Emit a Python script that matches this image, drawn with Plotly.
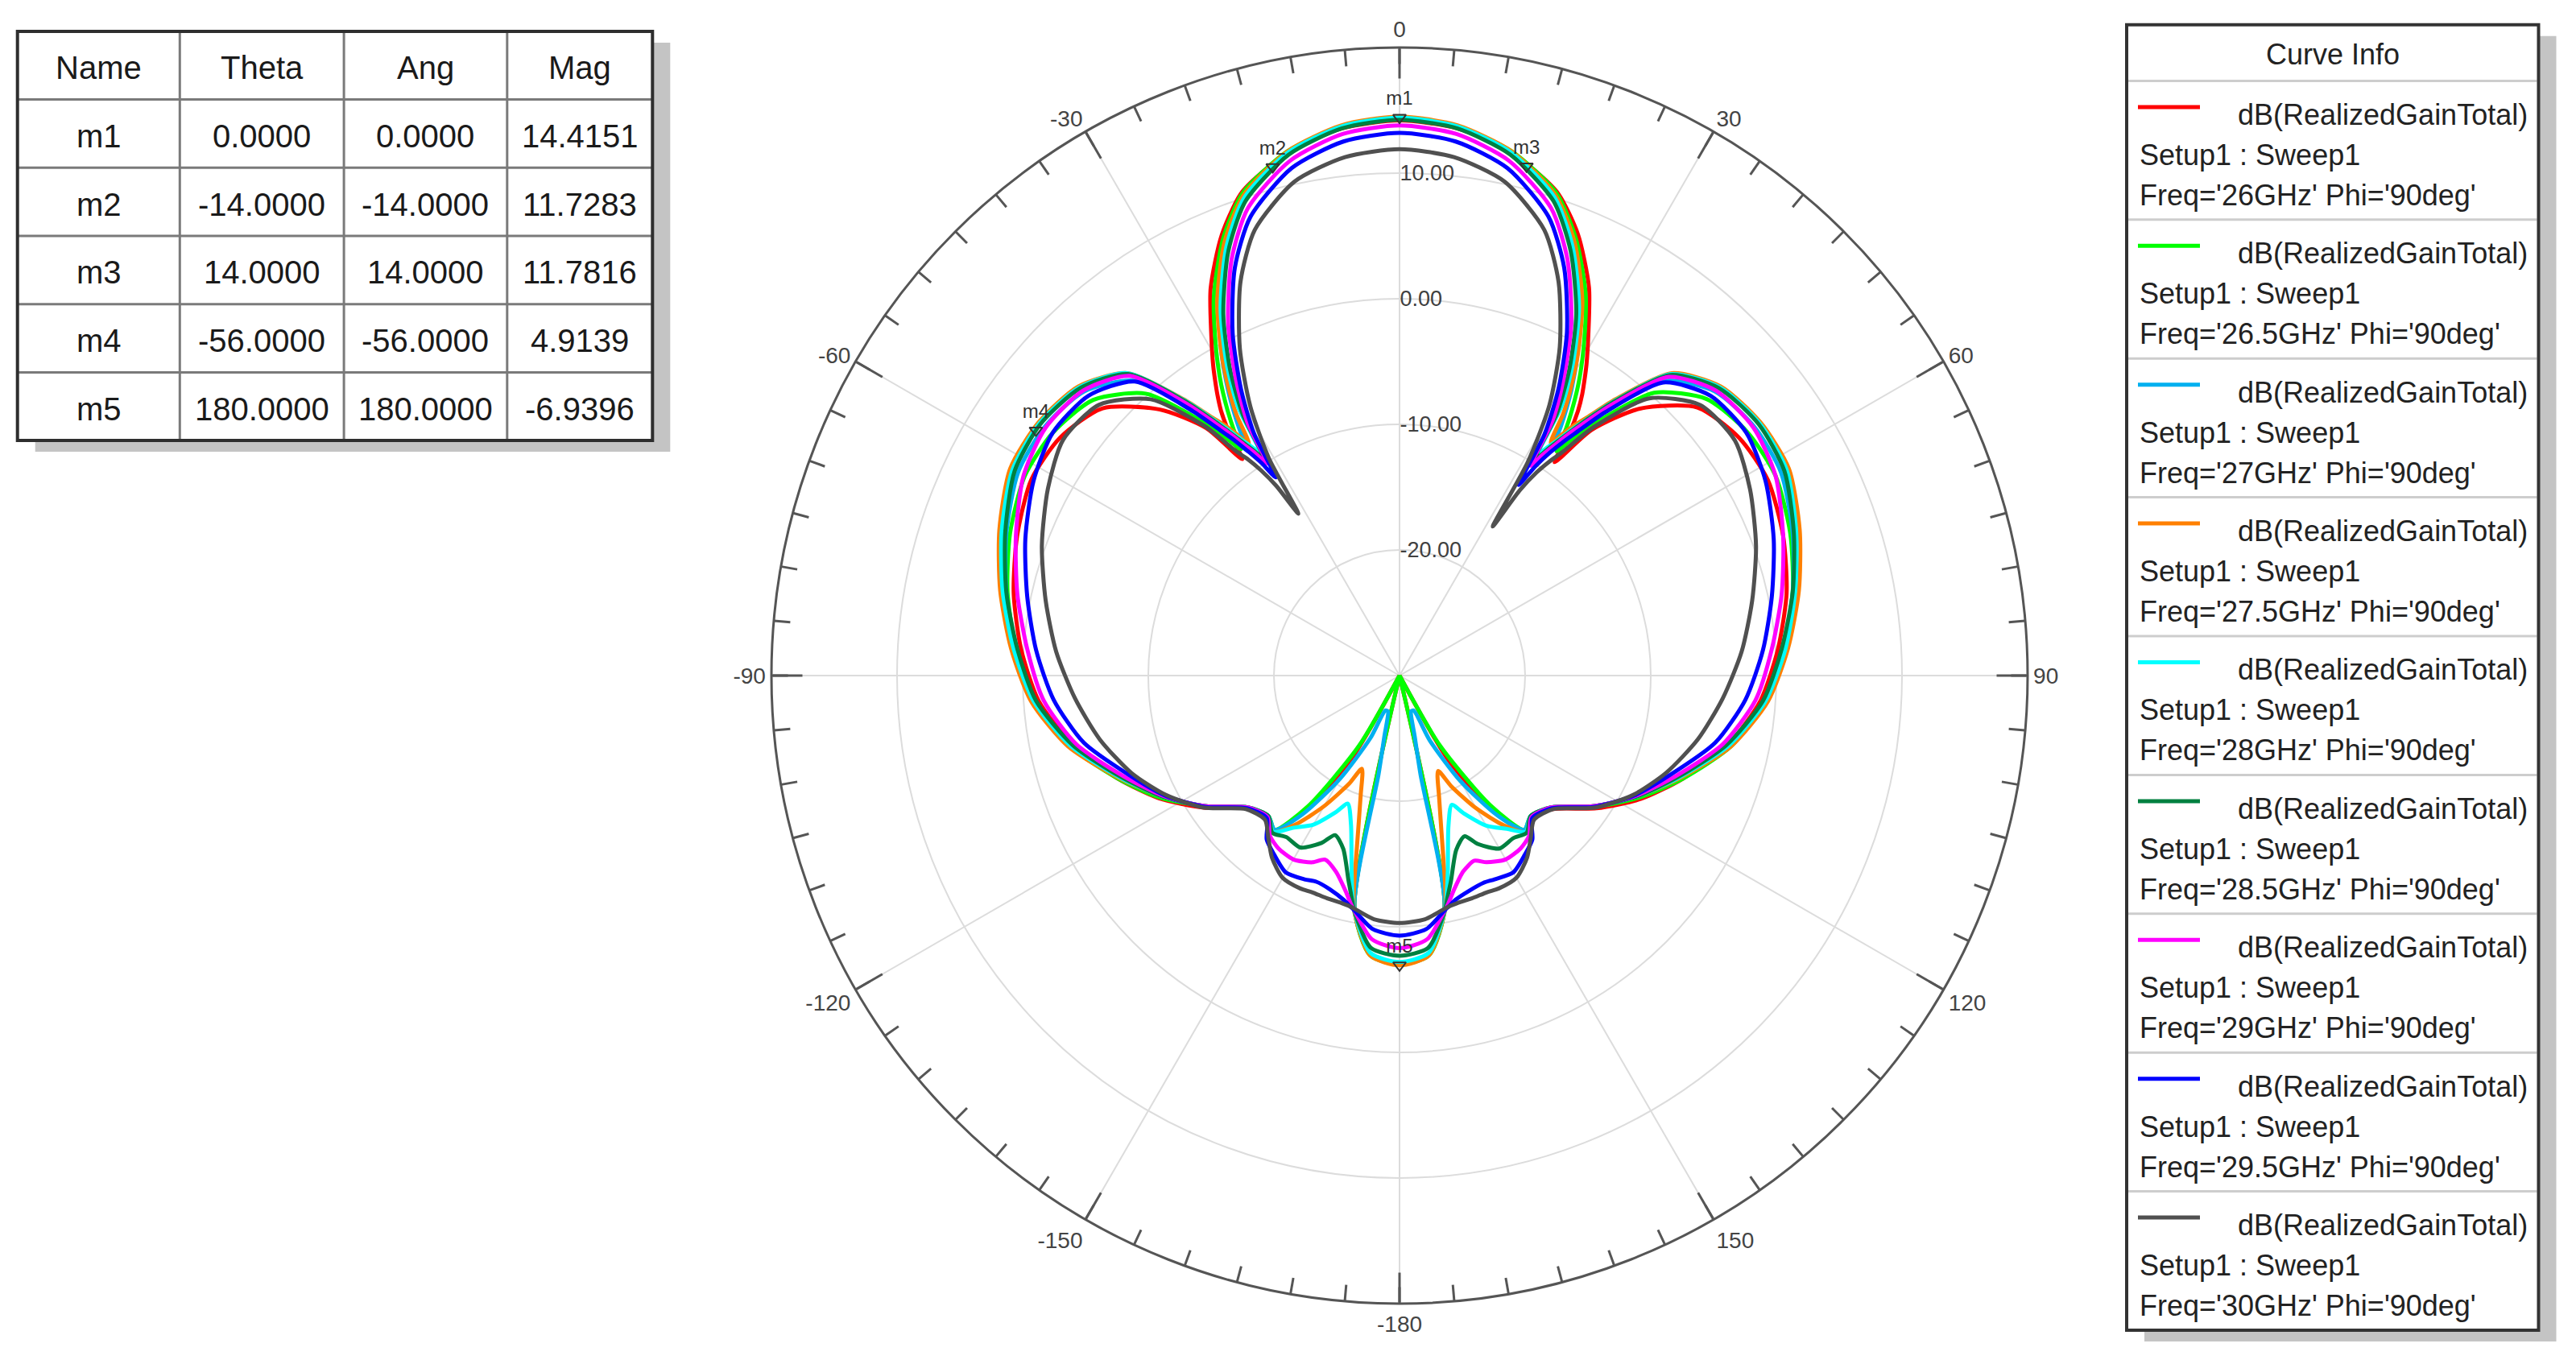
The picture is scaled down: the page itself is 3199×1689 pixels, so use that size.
import plotly.graph_objects as go

W, H = 3199, 1689
OFF = 8  # page body margin of the browser, compensated for in paper coordinates

# ---------------- data ----------------
THETA = [-180, -174, -169, -168, -166, -162, -158, -155, -150, -145, -141, -137, -131, -124, -117,
         -110, -102, -94, -86, -78, -70, -62, -55, -48, -42, -38, -36, -35, -34, -33, -32, -31,
         -29, -26, -22, -18, -12, -6, 0,
         6, 12, 18, 22, 26, 29, 31, 32, 33, 34, 35, 36, 38, 42, 48, 55, 62, 70, 78, 86, 94, 102,
         110, 117, 124, 131, 137, 141, 145, 150, 155, 158, 162, 166, 168, 169, 174, 180]

FREQS = ["26GHz", "26.5GHz", "27GHz", "27.5GHz", "28GHz", "28.5GHz", "29GHz", "29.5GHz", "30GHz"]
COLORS = ["#ff0000", "#00ff00", "#00b0f0", "#ff8000", "#00ffff", "#008040", "#ff00ff", "#0000ff", "#505050"]

GAIN_26 = ([-7.1, -7.7, -11.2, -30, -30, -30, -30, -30, -22.5, -16.8, -14.1, -14.6, -13.9, -11.2, -8.5,
            -6.1, -3.4, -1.2, 0.2, 1.4, 2.4, 3.2, 3.0, 1.8, -1.5, -5.0, -8.7, -6.3, -4.6, -3.4, -2.3, -1.2,
            0.9, 4.3, 7.8, 10.5, 12.6, 13.8, 14.2]
           + [13.8, 12.6, 10.5, 7.9, 4.4, 1.0, -1.1, -2.2, -3.3, -4.6, -6.4, -9.0, -5.2, -1.4, 1.9, 3.0,
              3.2, 2.5, 1.5, 0.2, -1.2, -3.3, -6.0, -8.4, -11.1, -13.8, -14.6, -14.1, -16.6, -22.3,
              -30, -30, -30, -30, -30, -11.2, -7.7, -7.1])
GAIN_26_5 = ([-7.0, -7.6, -11.2, -30, -30, -30, -30, -30, -23.5, -17.3, -14.2, -14.7, -14.0, -11.4, -8.6,
              -6.1, -3.1, -0.9, 0.6, 1.9, 3.0, 3.8, 3.7, 2.8, 0.2, -4.2, -6.8, -8.0, -6.4, -4.9, -3.5, -2.2,
              0.2, 3.7, 7.5, 10.4, 12.7, 13.95, 14.35]
             + [13.95, 12.7, 10.4, 7.5, 3.8, 0.3, -2.1, -3.4, -4.8, -6.3, -8.2, -6.9, -4.3, 0.3, 2.9, 3.8,
                3.9, 3.1, 2.0, 0.6, -0.9, -3.0, -6.0, -8.6, -11.3, -14.0, -14.7, -14.2, -17.4, -23.6,
                -30, -30, -30, -30, -30, -11.2, -7.6, -7.0])
GAIN_27 = ([-7.1, -7.7, -11.2, -22.0, -25.0, -27.0, -27.0, -24.5, -20.5, -16.5, -14.2, -14.7, -14.0, -11.4,
            -8.8, -6.3, -3.3, -0.9, 0.6, 2.0, 3.3, 4.4, 4.5, 3.8, 1.6, -2.8, -5.2, -6.6, -8.5, -6.6, -5.0,
            -3.5, -0.8, 2.9, 7.0, 10.1, 12.6, 13.95, 14.4]
           + [13.95, 12.6, 10.1, 7.0, 2.9, -0.8, -3.4, -4.9, -6.5, -8.4, -6.6, -5.2, -2.8, 1.6, 3.8, 4.5,
              4.4, 3.3, 2.0, 0.6, -0.9, -3.3, -6.3, -8.8, -11.4, -14.0, -14.7, -14.2, -16.4, -20.3,
              -24.3, -27.0, -27.0, -25.0, -22.0, -11.2, -7.7, -7.1])
GAIN_27_5 = ([-6.94, -7.6, -11.0, -12.5, -16.0, -20.0, -22.0, -20.5, -18.0, -15.5, -14.0, -14.7, -14.0, -11.4,
              -8.8, -6.2, -3.0, -0.6, 1.0, 2.5, 3.9, 5.1, 5.1, 4.4, 2.4, -2.1, -4.6, -5.6, -6.8, -8.0, -5.5,
              -3.8, -0.8, 3.1, 7.2, 10.2, 12.7, 14.05, 14.5]
             + [14.05, 12.7, 10.2, 7.2, 3.2, -0.7, -3.7, -5.4, -7.9, -6.8, -5.6, -4.6, -2.1, 2.4, 4.4, 5.1,
                5.1, 3.9, 2.5, 1.0, -0.6, -3.0, -6.2, -8.8, -11.4, -14.0, -14.7, -14.0, -15.4, -17.8,
                -20.3, -21.8, -19.8, -15.8, -12.4, -11.0, -7.6, -6.94])
GAIN_28 = ([-7.2, -7.8, -11.0, -12.0, -14.2, -17.5, -19.0, -18.0, -16.3, -15.2, -14.0, -14.7, -14.0, -11.4,
            -8.8, -6.3, -3.2, -0.8, 0.8, 2.3, 3.7, 4.9, 5.0, 4.3, 2.4, -2.2, -4.8, -6.0, -7.2, -8.2, -9.0,
            -5.0, -1.6, 2.5, 6.8, 10.0, 12.6, 13.97, 14.42]
           + [13.97, 12.6, 10.0, 6.8, 2.6, -1.5, -4.9, -9.2, -8.3, -7.3, -6.1, -4.9, -2.3, 2.3, 4.3, 5.0,
              4.9, 3.6, 2.2, 0.8, -0.8, -3.2, -6.3, -8.8, -11.4, -14.0, -14.7, -14.0, -15.1, -16.2,
              -17.9, -18.9, -17.4, -14.1, -12.0, -11.0, -7.8, -7.2])
GAIN_28_5 = ([-7.7, -8.2, -11.0, -11.8, -13.2, -15.5, -16.3, -15.3, -14.2, -14.3, -13.9, -14.7, -14.0, -11.4,
              -8.8, -6.4, -3.4, -1.0, 0.5, 2.0, 3.4, 4.7, 4.9, 4.2, 2.3, -2.3, -5.0, -6.3, -7.5, -8.6, -9.6,
              -5.8, -2.2, 2.0, 6.4, 9.7, 12.4, 13.8, 14.25]
             + [13.8, 12.4, 9.7, 6.4, 2.1, -2.1, -5.7, -9.8, -8.7, -7.5, -6.3, -5.0, -2.4, 2.2, 4.2, 4.9,
                4.7, 3.4, 2.0, 0.5, -1.0, -3.4, -6.4, -8.8, -11.4, -14.0, -14.7, -13.9, -14.2, -14.1,
                -15.2, -16.2, -15.4, -13.1, -11.8, -11.0, -8.2, -7.7])
GAIN_29 = ([-8.3, -8.9, -11.0, -11.4, -12.3, -13.6, -14.2, -13.6, -13.1, -13.2, -13.6, -14.6, -14.0, -11.4,
            -8.9, -6.6, -3.7, -1.6, -0.3, 1.1, 2.5, 3.9, 4.4, 3.9, 2.1, -2.6, -5.3, -6.5, -7.8, -8.9, -10.1,
            -6.5, -3.2, 1.1, 5.7, 9.1, 11.9, 13.35, 13.8]
           + [13.35, 11.9, 9.1, 5.7, 1.2, -3.1, -6.4, -10.3, -9.0, -7.8, -6.5, -5.3, -2.7, 2.0, 3.9, 4.4,
              3.9, 2.5, 1.1, -0.3, -1.6, -3.7, -6.6, -8.9, -11.4, -14.0, -14.6, -13.6, -13.2, -13.1,
              -13.6, -14.1, -13.6, -12.3, -11.4, -11.0, -8.9, -8.3])
GAIN_29_5 = ([-9.3, -9.7, -11.0, -11.2, -11.6, -12.1, -12.3, -12.1, -11.9, -12.6, -13.2, -14.5, -13.9, -11.3,
              -9.0, -7.0, -4.3, -2.4, -1.0, 0.3, 1.7, 3.0, 3.7, 3.3, 1.5, -3.3, -6.0, -7.2, -8.5, -9.8, -11.4,
              -7.5, -4.0, 0.3, 5.0, 8.4, 11.3, 12.75, 13.2]
             + [12.75, 11.3, 8.4, 5.0, 0.4, -3.9, -7.6, -12.1, -10.1, -8.6, -7.3, -6.1, -3.4, 1.4, 3.3, 3.7,
                3.0, 1.7, 0.3, -1.0, -2.4, -4.3, -7.0, -9.0, -11.3, -13.9, -14.5, -13.2, -12.6, -11.9,
                -12.1, -12.2, -12.0, -11.6, -11.2, -11.0, -9.7, -9.3])
GAIN_30 = ([-10.3, -10.5, -11.1, -11.2, -11.3, -11.35, -11.4, -11.3, -11.4, -12.3, -13.4, -14.3, -13.8, -11.2,
            -9.1, -7.3, -5.6, -4.1, -2.6, -1.2, 0.3, 1.7, 2.7, 2.2, -0.4, -4.8, -8.0, -9.0, -10.3, -12.0,
            -14.8, -9.8, -5.5, -1.0, 3.8, 7.3, 10.2, 11.5, 11.9]
           + [11.5, 10.2, 7.3, 3.8, -0.9, -5.4, -10.2, -16.0, -12.4, -10.5, -9.2, -8.1, -4.9, -0.3, 2.2,
              2.6, 1.6, 0.2, -1.3, -2.7, -4.2, -5.7, -7.4, -9.1, -11.2, -13.8, -14.3, -13.4, -12.3, -11.4,
              -11.3, -11.4, -11.35, -11.3, -11.2, -11.1, -10.5, -10.3])

SERIES = [GAIN_26, GAIN_26_5, GAIN_27, GAIN_27_5, GAIN_28, GAIN_28_5, GAIN_29, GAIN_29_5, GAIN_30]

MARKER_NAMES = ["m1", "m2", "m3", "m4", "m5"]
MARKER_THETA = [0.0, -14.0, 14.0, -56.0, 180.0]
MARKER_ANG = [0.0, -14.0, 14.0, -56.0, 180.0]
MARKER_MAG = [14.4151, 11.7283, 11.7816, 4.9139, -6.9396]
TABLE_HEADER = ["Name", "Theta", "Ang", "Mag"]

ANG_TICKVALS = list(range(0, 360, 30))
ANG_TICKTEXT = ["0", "30", "60", "90", "120", "150", "-180", "-150", "-120", "-90", "-60", "-30"]
MINOR_TICKVALS = list(range(0, 360, 5))
RAD_TICKVALS = [-20, -10, 0, 10]
RAD_TICKTEXT = ["-20.00", "-10.00", "0.00", "10.00"]
RAD_RANGE = [-30, 20]

LEGEND_TITLE = "Curve Info"
QUANTITY = "dB(RealizedGainTotal)"
SWEEP = "Setup1 : Sweep1"
PHI = "90deg"

FONT = "Arial, Liberation Sans, sans-serif"


def fx(x):
    return (x - OFF) / W


def fy(y):
    return 1 - (y - OFF) / H


fig = go.Figure()

for name, col, r in zip(FREQS, COLORS, SERIES):
    fig.add_trace(go.Scatterpolar(
        r=r, theta=THETA, mode="lines", subplot="polar",
        line=dict(color=col, width=5, shape="spline", smoothing=0.7), name=name, showlegend=False,
        hoverinfo="skip"))

fig.add_trace(go.Scatterpolar(
    r=MARKER_MAG, theta=MARKER_THETA, mode="markers+text", subplot="polar2",
    text=MARKER_NAMES, textposition="top center",
    textfont=dict(family=FONT, size=24, color="#333333"),
    marker=dict(symbol="triangle-down-open", size=14, color="#333333", line=dict(width=2)),
    showlegend=False, hoverinfo="skip"))

# polar geometry
CX, CY, R = 1738, 839, 780
dom = dict(x=[fx(CX - R), fx(CX + R)], y=[fy(CY + R), fy(CY - R)])

layout_polar = dict(
    domain=dom, bgcolor="white",
    angularaxis=dict(rotation=90, direction="clockwise", tickmode="array",
                     tickvals=ANG_TICKVALS, ticktext=ANG_TICKTEXT,
                     ticks="inside", ticklen=37, tickwidth=3, tickcolor="#555555",
                     showline=True, linecolor="#555555", linewidth=3,
                     showgrid=True, gridcolor="#dcdcdc", gridwidth=2,
                     tickfont=dict(family=FONT, size=28, color="#444444")),
    radialaxis=dict(range=RAD_RANGE, tickmode="array", tickvals=RAD_TICKVALS, ticktext=RAD_TICKTEXT,
                    angle=90, side="clockwise", tickangle=90, showline=False, ticks="",
                    showgrid=True, gridcolor="#dcdcdc", gridwidth=2,
                    tickfont=dict(family=FONT, size=27, color="#404040")),
)
layout_polar2 = dict(
    domain=dom, bgcolor="rgba(0,0,0,0)",
    angularaxis=dict(rotation=90, direction="clockwise", tickmode="array",
                     tickvals=MINOR_TICKVALS, showticklabels=False,
                     ticks="inside", ticklen=20, tickwidth=2.5, tickcolor="#555555",
                     showline=False, showgrid=False),
    radialaxis=dict(range=RAD_RANGE, visible=False, showgrid=False),
)

shapes = []
annotations = []

# ---------- marker table ----------
TX = [21.7, 223.3, 427.1, 629.8, 810.3]
TY0, TROW = 38.9, 84.7
nrows = len(MARKER_NAMES) + 1
tbottom = TY0 + TROW * nrows
SH_DX, SH_DY = 22, 14
shapes.append(dict(type="rect", xref="paper", yref="paper",
                   x0=fx(TX[0] + SH_DX), x1=fx(TX[-1] + SH_DX), y0=fy(TY0 + SH_DY), y1=fy(tbottom + SH_DY),
                   fillcolor="#c4c4c4", line=dict(width=0), layer="above"))
shapes.append(dict(type="rect", xref="paper", yref="paper",
                   x0=fx(TX[0]), x1=fx(TX[-1]), y0=fy(TY0), y1=fy(tbottom),
                   fillcolor="white", line=dict(width=0), layer="above"))
for i in range(1, nrows):
    y = TY0 + TROW * i
    shapes.append(dict(type="line", xref="paper", yref="paper", x0=fx(TX[0]), x1=fx(TX[-1]),
                       y0=fy(y), y1=fy(y), line=dict(color="#7a7a7a", width=3), layer="above"))
for x in TX[1:-1]:
    shapes.append(dict(type="line", xref="paper", yref="paper", x0=fx(x), x1=fx(x),
                       y0=fy(TY0), y1=fy(tbottom), line=dict(color="#7a7a7a", width=3), layer="above"))
shapes.append(dict(type="rect", xref="paper", yref="paper",
                   x0=fx(TX[0]), x1=fx(TX[-1]), y0=fy(TY0), y1=fy(tbottom),
                   line=dict(color="#2e2e2e", width=4), layer="above"))

rows = [TABLE_HEADER] + [[n, f"{t:.4f}", f"{a:.4f}", f"{m:.4f}"]
                         for n, t, a, m in zip(MARKER_NAMES, MARKER_THETA, MARKER_ANG, MARKER_MAG)]
for ri, row in enumerate(rows):
    yc = TY0 + TROW * (ri + 0.5) + 3
    for ci, txt in enumerate(row):
        xc = (TX[ci] + TX[ci + 1]) / 2
        annotations.append(dict(x=fx(xc), y=fy(yc), xref="paper", yref="paper", text=txt,
                                showarrow=False, xanchor="center", yanchor="middle",
                                font=dict(family=FONT, size=40, color="#1a1a1a")))

# ---------- curve info legend ----------
LX0, LX1, LY0 = 2641, 3152.5, 30.7
LHEAD = 69.7
LENT = 172.4
lbottom = LY0 + LHEAD + LENT * len(FREQS)
shapes.append(dict(type="rect", xref="paper", yref="paper",
                   x0=fx(LX0 + SH_DX), x1=fx(LX1 + SH_DX), y0=fy(LY0 + SH_DY), y1=fy(lbottom + SH_DY),
                   fillcolor="#c4c4c4", line=dict(width=0), layer="above"))
shapes.append(dict(type="rect", xref="paper", yref="paper",
                   x0=fx(LX0), x1=fx(LX1), y0=fy(LY0), y1=fy(lbottom),
                   fillcolor="white", line=dict(width=0), layer="above"))
annotations.append(dict(x=fx((LX0 + LX1) / 2), y=fy(LY0 + LHEAD / 2 + 2), xref="paper", yref="paper",
                        text=LEGEND_TITLE, showarrow=False, xanchor="center", yanchor="middle",
                        font=dict(family=FONT, size=36, color="#222222")))
for k, (fq, col) in enumerate(zip(FREQS, COLORS)):
    top = LY0 + LHEAD + LENT * k
    shapes.append(dict(type="line", xref="paper", yref="paper", x0=fx(LX0 + 2), x1=fx(LX1 - 2),
                       y0=fy(top), y1=fy(top), line=dict(color="#cdcdcd", width=3), layer="above"))
    shapes.append(dict(type="line", xref="paper", yref="paper", x0=fx(2655), x1=fx(2732),
                       y0=fy(top + 32.5), y1=fy(top + 32.5), line=dict(color=col, width=5), layer="above"))
    annotations.append(dict(x=fx(3141), y=fy(top + 42), xref="paper", yref="paper", text=QUANTITY,
                            showarrow=False, xanchor="right", yanchor="middle",
                            font=dict(family=FONT, size=36, color="#222222")))
    annotations.append(dict(x=fx(2655), y=fy(top + 92), xref="paper", yref="paper", text=SWEEP,
                            showarrow=False, xanchor="left", yanchor="middle",
                            font=dict(family=FONT, size=36, color="#222222")))
    annotations.append(dict(x=fx(2655), y=fy(top + 142), xref="paper", yref="paper",
                            text=f"Freq='{fq}' Phi='{PHI}'",
                            showarrow=False, xanchor="left", yanchor="middle",
                            font=dict(family=FONT, size=36, color="#222222")))
shapes.append(dict(type="rect", xref="paper", yref="paper",
                   x0=fx(LX0), x1=fx(LX1), y0=fy(LY0), y1=fy(lbottom),
                   line=dict(color="#333333", width=4), layer="above"))

fig.update_layout(
    width=W, height=H, margin=dict(l=0, r=0, t=0, b=0),
    paper_bgcolor="white", plot_bgcolor="white",
    polar=layout_polar, polar2=layout_polar2,
    shapes=shapes, annotations=annotations, showlegend=False,
    font=dict(family=FONT),
)

fig.write_html("out.html")
